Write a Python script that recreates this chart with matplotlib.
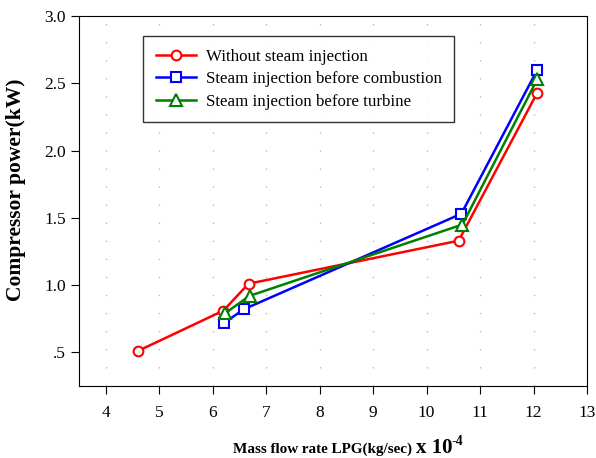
import matplotlib
matplotlib.use('Agg')
import matplotlib.pyplot as plt

plt.rcParams['font.family'] = ['Liberation Serif', 'DejaVu Serif']

# data
x_red = [4.6, 6.2, 6.67, 10.6, 12.07]
y_red = [0.51, 0.81, 1.01, 1.33, 2.43]
x_blue = [6.22, 6.58, 10.65, 12.07]
y_blue = [0.72, 0.82, 1.53, 2.60]
x_green = [6.23, 6.69, 10.67, 12.07]
y_green = [0.79, 0.92, 1.45, 2.53]

labels = ['Without steam injection', 'Steam injection before combustion',
          'Steam injection before turbine']
xticks = list(range(4, 14))
yticks = [0.5, 1.0, 1.5, 2.0, 2.5, 3.0]
ytick_labels = ['.5', '1.0', '1.5', '2.0', '2.5', '3.0']

W, H = 596, 458
fig, ax = plt.subplots(figsize=(W / 100, H / 100), dpi=100)
fig.subplots_adjust(left=79 / W, right=587 / W, top=1 - 16 / H, bottom=1 - 386 / H)

ax.plot(x_red, y_red, color='red', lw=1.8, marker='o', ms=7,
        mfc='white', mec='red', mew=1.5, label=labels[0])
ax.plot(x_blue, y_blue, color='blue', lw=1.8, marker='s', ms=7,
        mfc='white', mec='blue', mew=1.5, label=labels[1])
ax.plot(x_green, y_green, color='green', lw=1.8, marker='^', ms=8,
        mfc='white', mec='green', mew=1.5, label=labels[2])

ax.set_xlim(3.5, 13)
ax.set_ylim(0.25, 3.0)
ax.set_xticks(xticks)
ax.set_yticks(yticks)
ax.set_yticklabels(ytick_labels)
ax.tick_params(labelsize=12.5, direction='out', length=6, top=False, right=False)
ax.tick_params(axis='x', pad=8)
ax.xaxis.grid(True, color='#bbbbbb', linestyle=(0, (1, 12)), lw=1)
ax.set_axisbelow(True)

ax.set_ylabel('Compressor power(kW)', fontsize=15.5, fontweight='bold')
ax.yaxis.set_label_coords(-0.104, 0.53)

# x label: main text, bigger "x 10" and a superscript "-4"
fig.text(412 / W, 1 - 453 / H, 'Mass flow rate LPG(kg/sec)', ha='right',
         va='baseline', fontsize=10.9, fontweight='bold')
fig.text(416 / W, 1 - 453 / H, 'x 10', ha='left', va='baseline',
         fontsize=15, fontweight='bold')
fig.text(451 / W, 1 - 445 / H, '-4', ha='left', va='baseline',
         fontsize=10, fontweight='bold')

leg = ax.legend(loc='upper left', bbox_to_anchor=(0.126, 0.946), fontsize=12.2,
                frameon=True, fancybox=False, edgecolor='black',
                handlelength=2.35, borderpad=0.75, labelspacing=0.38,
                handletextpad=0.6, borderaxespad=0)
leg.get_frame().set_linewidth(1.0)

plt.savefig('out.png', dpi=100)
